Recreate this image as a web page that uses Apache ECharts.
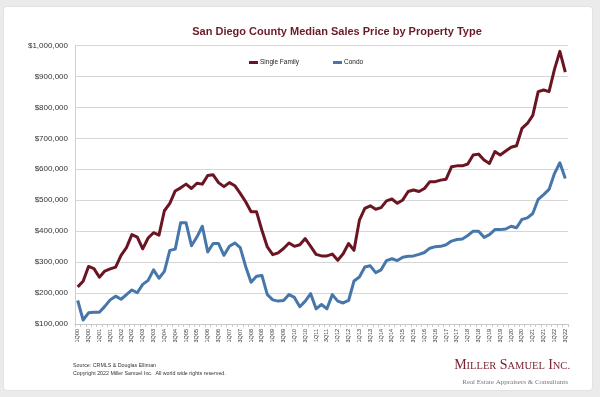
<!DOCTYPE html>
<html>
<head>
<meta charset="utf-8">
<script src="https://cdn.jsdelivr.net/npm/echarts@6/dist/echarts.min.js"></script>
<style>
  html, body { margin: 0; padding: 0; width: 600px; height: 397px; background: #ebebeb; overflow: hidden; }
  #panel { position: absolute; left: 4px; top: 7px; width: 588px; height: 383px; background: #ffffff; border-radius: 3px; box-shadow: 0 0 2px rgba(0,0,0,0.12); }
  #chart { position: absolute; left: 0; top: 0; width: 600px; height: 397px; }
</style>
</head>
<body>
<div id="panel"></div>
<div id="chart"></div>
<script>
const categories = [
  '1Q00','2Q00','3Q00','4Q00','1Q01','2Q01','3Q01','4Q01','1Q02','2Q02','3Q02','4Q02',
  '1Q03','2Q03','3Q03','4Q03','1Q04','2Q04','3Q04','4Q04','1Q05','2Q05','3Q05','4Q05',
  '1Q06','2Q06','3Q06','4Q06','1Q07','2Q07','3Q07','4Q07','1Q08','2Q08','3Q08','4Q08',
  '1Q09','2Q09','3Q09','4Q09','1Q10','2Q10','3Q10','4Q10','1Q11','2Q11','3Q11','4Q11',
  '1Q12','2Q12','3Q12','4Q12','1Q13','2Q13','3Q13','4Q13','1Q14','2Q14','3Q14','4Q14',
  '1Q15','2Q15','3Q15','4Q15','1Q16','2Q16','3Q16','4Q16','1Q17','2Q17','3Q17','4Q17',
  '1Q18','2Q18','3Q18','4Q18','1Q19','2Q19','3Q19','4Q19','1Q20','2Q20','3Q20','4Q20',
  '1Q21','2Q21','3Q21','4Q21','1Q22','2Q22','3Q22'
];

const singleFamily = [
  220000,238000,286000,279000,251000,271000,278000,284000,322000,347000,389000,381000,
  343000,378000,395000,387000,466000,490000,530000,540000,552000,538000,555000,552000,
  580000,582000,557000,544000,557000,547000,522000,495000,463000,463000,403000,349000,
  324000,330000,344000,362000,351000,356000,376000,351000,325000,320000,320000,326000,
  306000,327000,360000,338000,436000,474000,482000,471000,476000,498000,504000,490000,
  501000,528000,533000,528000,538000,560000,560000,565000,568000,608000,611000,611000,
  617000,646000,649000,630000,619000,657000,646000,659000,671000,676000,732000,748000,
  774000,851000,856000,851000,923000,981000,914000
];

const condo = [
  176000,113000,136000,138000,138000,157000,178000,190000,180000,195000,210000,201000,
  228000,241000,275000,248000,270000,338000,342000,427000,427000,353000,381000,416000,
  333000,360000,360000,322000,351000,362000,347000,286000,235000,254000,257000,195000,
  178000,174000,176000,195000,186000,156000,174000,198000,149000,163000,149000,195000,
  174000,168000,176000,239000,252000,284000,288000,266000,275000,305000,311000,305000,
  316000,319000,320000,325000,331000,345000,350000,351000,356000,368000,373000,375000,
  386000,400000,400000,380000,389000,405000,405000,407000,416000,411000,438000,443000,
  457000,503000,518000,535000,586000,621000,570000
];

const seriesNames = ['Single Family', 'Condo'];
const yMin = 100000, yMax = 1000000, yStep = 100000;

const chart = echarts.init(document.getElementById('chart'), null, { renderer: 'canvas' });

const fmt = v => '$' + v.toLocaleString('en-US');

chart.setOption({
  backgroundColor: 'transparent',
  animation: false,
  title: {
    text: 'San Diego County Median Sales Price by Property Type',
    left: 332, top: 21, textAlign: 'center',
    textStyle: { fontFamily: 'Liberation Sans, Arial, sans-serif', fontSize: 11, fontWeight: 'bold', color: '#6b1a28' }
  },
  legend: {
    data: seriesNames,
    left: 249, top: 59,
    icon: 'rect', itemWidth: 9, itemHeight: 3, itemGap: 34,
    padding: 0,
    textStyle: { fontFamily: 'Liberation Sans, Arial, sans-serif', fontSize: 6.5, color: '#222', padding: [0, 0, 0, -3] }
  },
  grid: { left: 75, right: 32, top: 45.5, bottom: 73, containLabel: false },
  xAxis: {
    type: 'category',
    data: categories,
    boundaryGap: true,
    axisLine: { show: true, lineStyle: { color: '#c8c8c8', width: 1 } },
    axisTick: { show: true, interval: 0, length: 3, lineStyle: { color: '#c8c8c8' } },
    axisLabel: {
      interval: 1, rotate: 90, margin: 5,
      fontFamily: 'Liberation Sans, Arial, sans-serif', fontSize: 5.5, color: '#333'
    },
    splitLine: { show: false }
  },
  yAxis: {
    type: 'value',
    min: yMin, max: yMax, interval: yStep,
    axisLine: { show: true, lineStyle: { color: '#d0d0d0', width: 1 } },
    axisTick: { show: false },
    axisLabel: {
      formatter: fmt, margin: 7,
      fontFamily: 'Liberation Sans, Arial, sans-serif', fontSize: 8, color: '#333'
    },
    splitLine: { show: true, lineStyle: { color: '#d6d6d6', width: 1 } }
  },
  series: [
    {
      name: seriesNames[0], type: 'line', data: singleFamily,
      showSymbol: false, symbol: 'none',
      lineStyle: { color: '#6b1522', width: 3, join: 'round' },
      itemStyle: { color: '#6b1522' }, z: 3
    },
    {
      name: seriesNames[1], type: 'line', data: condo,
      showSymbol: false, symbol: 'none',
      lineStyle: { color: '#4676aa', width: 3, join: 'round' },
      itemStyle: { color: '#4676aa' }, z: 2
    }
  ],
  graphic: [
    {
      type: 'text', left: 73, top: 363,
      style: { text: 'Source: CRMLS & Douglas Elliman', fontFamily: 'Liberation Sans, Arial, sans-serif', fontSize: 5.3, fill: '#333' }
    },
    {
      type: 'text', left: 73, top: 371.5,
      style: { text: 'Copyright 2022 Miller Samuel Inc.  All world wide rights reserved.', fontFamily: 'Liberation Sans, Arial, sans-serif', fontSize: 5.3, fill: '#333' }
    },
    {
      type: 'text', right: 30, top: 358,
      style: {
        text: '{a|M}{b|ILLER} {a|S}{b|AMUEL} {a|I}{b|NC.}',
        rich: {
          a: { fontFamily: 'Liberation Serif, Times New Roman, serif', fontSize: 14, fill: '#7a2433', verticalAlign: 'bottom' },
          b: { fontFamily: 'Liberation Serif, Times New Roman, serif', fontSize: 10.5, fill: '#7a2433', verticalAlign: 'bottom' }
        },
        fill: '#7a2433'
      }
    },
    {
      type: 'text', right: 32, top: 379,
      style: { text: 'Real Estate Appraisers & Consultants', fontFamily: 'Liberation Serif, Times New Roman, serif', fontSize: 7, fill: '#777' }
    }
  ]
});
</script>
</body>
</html>
